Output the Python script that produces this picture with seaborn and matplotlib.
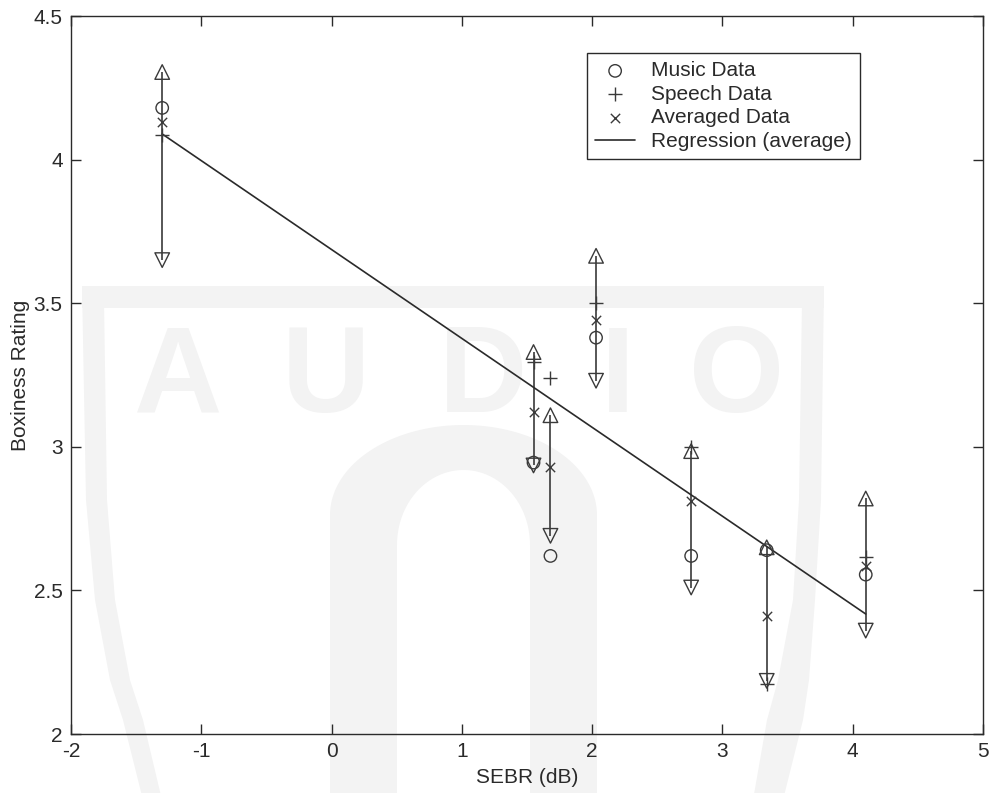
import numpy as np
import pandas as pd
import matplotlib
matplotlib.use("Agg")
import matplotlib.pyplot as plt
from matplotlib.patches import Polygon
import seaborn as sns

# SEBR of each test item and its boxiness ratings
sebr_db = [-1.30, 1.55, 1.68, 2.03, 2.76, 3.34, 4.10]
music_rating = [4.18, 2.945, 2.62, 3.38, 2.62, 2.64, 2.555]
speech_rating = [4.085, 3.295, 3.24, 3.50, 3.00, 2.175, 2.615]
averaged_rating = [4.13, 3.12, 2.93, 3.44, 2.81, 2.41, 2.585]
upper_bound = [4.305, 3.33, 3.11, 3.665, 2.985, 2.65, 2.82]
lower_bound = [3.65, 2.935, 2.69, 3.23, 2.51, 2.185, 2.36]

x_ticks = [-2, -1, 0, 1, 2, 3, 4, 5]
x_tick_labels = ["-2", "-1", "0", "1", "2", "3", "4", "5"]
y_ticks = [2, 2.5, 3, 3.5, 4, 4.5]
y_tick_labels = ["2", "2.5", "3", "3.5", "4", "4.5"]

sns.set_style("ticks")
plt.rcParams["font.family"] = ["Liberation Sans", "DejaVu Sans"]

INK = "#2a2a2a"
MARK = "#3a3a3a"
WATERMARK = "#f3f3f3"

df = pd.DataFrame({
    "sebr": sebr_db,
    "music": music_rating,
    "speech": speech_rating,
    "average": averaged_rating,
    "upper": upper_bound,
    "lower": lower_bound,
})

# linear regression of the averaged ratings
slope, intercept = np.polyfit(df["sebr"], df["average"], 1)
reg_x = np.array([df["sebr"].min(), df["sebr"].max()])
reg_df = pd.DataFrame({"sebr": reg_x, "fit": slope * reg_x + intercept})

W, H = 990, 793
fig = plt.figure(figsize=(W / 100, H / 100), dpi=100)

# faint "AUDIO" emblem in the background, in pixel coordinates
bg = fig.add_axes([0, 0, 1, 1], zorder=0)
bg.set_xlim(0, W)
bg.set_ylim(H, 0)
bg.axis("off")


def arch(xl, xr, y_top, y_shoulder, y_bottom, n=80):
    cx = (xl + xr) / 2
    rx = (xr - xl) / 2
    ry = y_shoulder - y_top
    t = np.linspace(np.pi, 0, n)
    xs = np.r_[xl, cx + rx * np.cos(t), xr]
    ys = np.r_[y_bottom, y_shoulder - ry * np.sin(t), y_bottom]
    return np.column_stack([xs, ys])


outer = arch(330, 597, 425, 515, 800)
inner = arch(397, 530, 470, 545, 800)
bg.add_patch(Polygon(np.vstack([outer, inner[::-1]]), closed=True,
                     facecolor=WATERMARK, edgecolor="none"))

# shield outline: top band plus two curved sides
bg.add_patch(Polygon([(82, 286), (824, 286), (824, 308), (82, 308)],
                     closed=True, facecolor=WATERMARK, edgecolor="none"))
left_outer = [(82, 286), (86, 500), (95, 600), (110, 680), (123, 720), (143, 800)]
left_inner = [(104, 300), (107, 500), (115, 600), (130, 680), (143, 720), (162, 800)]
bg.add_patch(Polygon(left_outer + left_inner[::-1], closed=True,
                     facecolor=WATERMARK, edgecolor="none"))
right_outer = [(824, 286), (821, 500), (815, 600), (809, 680), (803, 720), (783, 800)]
right_inner = [(802, 300), (799, 500), (793, 600), (778, 680), (767, 720), (753, 800)]
bg.add_patch(Polygon(right_outer + right_inner[::-1], closed=True,
                     facecolor=WATERMARK, edgecolor="none"))

for letter, cx in zip("AUDIO", [178, 326, 483, 618, 737]):
    bg.text(cx, 412, letter, ha="center", va="baseline", fontsize=88,
            fontweight="bold", color=WATERMARK, family="Liberation Sans")

# main axes
ax = fig.add_axes([71 / W, 1 - 734 / H, (983 - 71) / W, (734 - 16) / H], zorder=1)
ax.set_facecolor("none")

ax.vlines(df["sebr"], df["lower"], df["upper"], color=MARK, linewidth=1.2, zorder=2)

sns.lineplot(data=reg_df, x="sebr", y="fit", color=INK, linewidth=1.2,
             ax=ax, legend=False, zorder=3)
reg_line = ax.lines[-1]


def hollow_scatter(col, marker, size, lw=1.0):
    sns.scatterplot(data=df, x="sebr", y=col, marker=marker, s=size,
                    ax=ax, legend=False, zorder=4)
    pc = ax.collections[-1]
    if marker in ("+", "x"):
        pc.set_facecolor(MARK)
        pc.set_edgecolor(MARK)
    else:
        pc.set_facecolor("none")
        pc.set_edgecolor(MARK)
    pc.set_linewidth(lw)
    return pc


hollow_scatter("upper", "^", 110)
hollow_scatter("lower", "v", 110)
music_pc = hollow_scatter("music", "o", 80)
speech_pc = hollow_scatter("speech", "+", 110)
avg_pc = hollow_scatter("average", "x", 45)

ax.set_xlim(-2, 5)
ax.set_ylim(2, 4.5)
ax.set_xticks(x_ticks)
ax.set_xticklabels(x_tick_labels)
ax.set_yticks(y_ticks)
ax.set_yticklabels(y_tick_labels)
ax.tick_params(direction="in", length=7, width=1.0, color=INK,
               top=True, right=True, labelsize=15, labelcolor=INK, pad=6)
for sp in ax.spines.values():
    sp.set_visible(True)
    sp.set_color(INK)
    sp.set_linewidth(1.0)

ax.set_xlabel("SEBR (dB)", fontsize=15, color=INK, labelpad=5)
ax.set_ylabel("Boxiness Rating", fontsize=15, color=INK, labelpad=3)

leg = ax.legend([music_pc, speech_pc, avg_pc, reg_line],
                ["Music Data", "Speech Data", "Averaged Data", "Regression (average)"],
                loc="upper left", bbox_to_anchor=(587 / W, 1 - 53 / H),
                bbox_transform=fig.transFigure, borderaxespad=0,
                fontsize=15, frameon=True, fancybox=False, framealpha=1,
                edgecolor=INK, borderpad=0.4, labelspacing=0.22,
                handlelength=1.9, handletextpad=0.75, scatterpoints=1)
leg.get_frame().set_linewidth(1.0)
for t in leg.get_texts():
    t.set_color(INK)

fig.savefig("out.png", dpi=100, facecolor="white")
